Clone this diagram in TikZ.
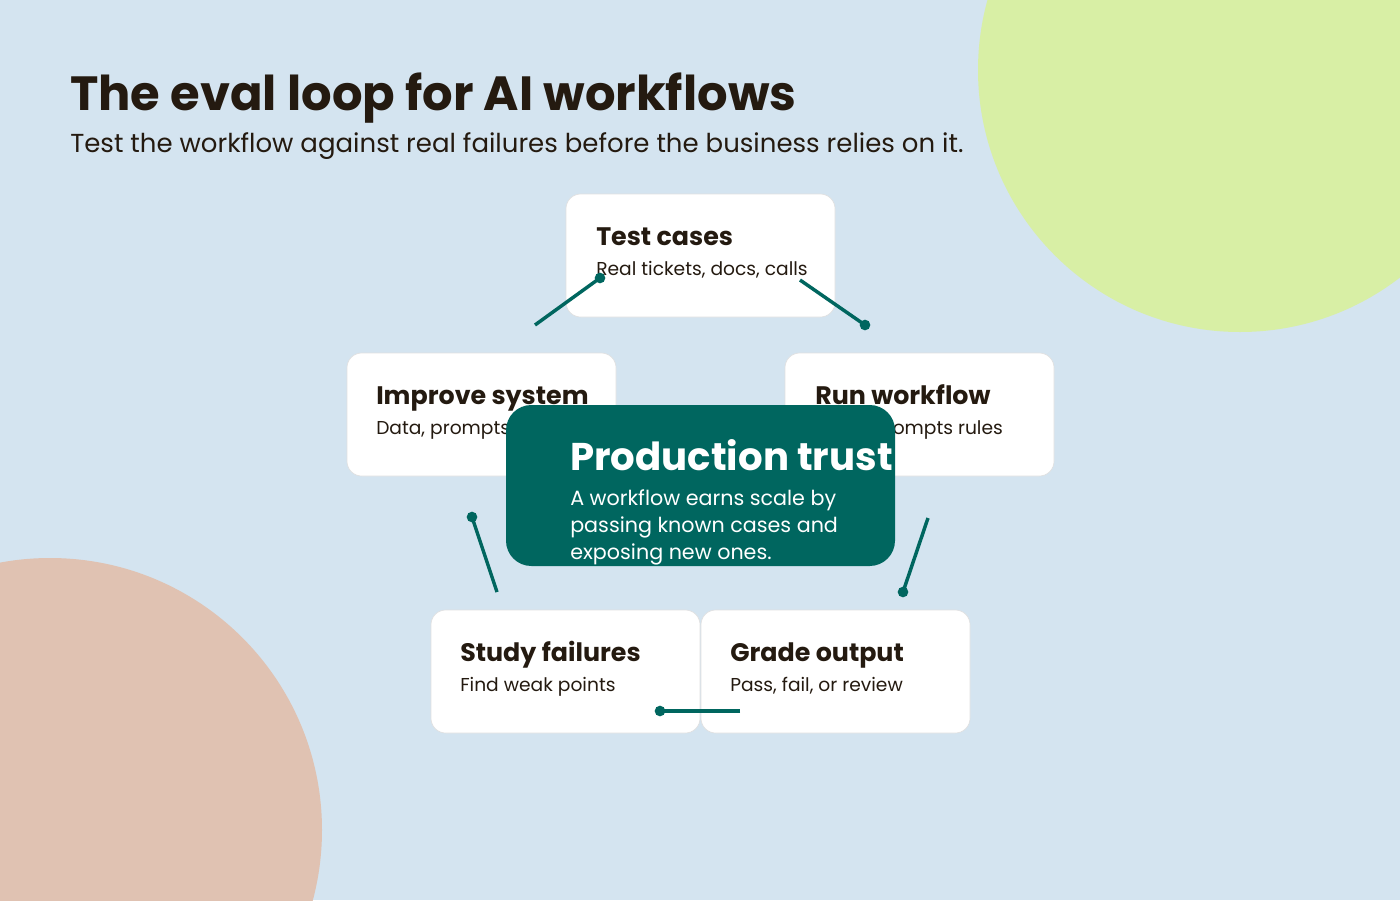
\documentclass[tikz,border=0pt]{standalone}
\usepackage{fontspec}
\setmainfont{Poppins}
\definecolor{bg}{HTML}{D4E4F0}
\definecolor{lime}{HTML}{D8EFA5}
\definecolor{peach}{HTML}{E0C2B2}
\definecolor{teal}{HTML}{00665F}
\definecolor{ink}{HTML}{241A10}
\begin{document}
\begin{tikzpicture}[x=0.75pt,y=-0.75pt,
  card/.style={draw=black!12,fill=white,rounded corners=11pt,line width=0.5pt},
  ttl/.style={anchor=base west,inner sep=0,text=ink,font=\fontsize{19}{22}\selectfont\bfseries},
  sub/.style={anchor=base west,inner sep=0,text=ink,font=\fontsize{14}{17}\selectfont},
  link/.style={draw=teal,line width=2.6pt},
  dot/.style={circle,fill=teal,inner sep=0,minimum size=8pt}]
\fill[bg] (0,0) rectangle (1400,900);
\useasboundingbox (0,0) rectangle (1400,900);
\fill[lime] (1240,70) circle[radius=262];
\fill[peach] (50,830) circle[radius=272];
\node[anchor=base west,inner sep=0,text=ink,font=\fontsize{36}{40}\selectfont\bfseries] (title) at (70,110) {The eval loop for AI workflows};
\node[anchor=base west,inner sep=0,text=ink,font=\fontsize{19.5}{22}\selectfont] (subtitle) at (70,152) {Test the workflow against real failures before the business relies on it.};
% cards
\path[card] (566,194) rectangle (835,317);
\node[ttl] (t1) at (596,245) {Test cases};
\node[sub] (s1) at (596,275) {Real tickets, docs, calls};
\path[card] (347,353) rectangle (616,476);
\node[ttl] (t5) at (376,404) {Improve system};
\node[sub] (s5) at (376,434) {Data, prompts, tools};
\path[card] (785,353) rectangle (1054,476);
\node[ttl] (t2) at (815,404) {Run workflow};
\node[sub] (s2) at (815,434) {Apply prompts rules};
\path[card] (431,610) rectangle (700,733);
\node[ttl] (t4) at (460,661) {Study failures};
\node[sub] (s4) at (460,691) {Find weak points};
\path[card] (701,610) rectangle (970,733);
\node[ttl] (t3) at (730,661) {Grade output};
\node[sub] (s3) at (730,691) {Pass, fail, or review};
% connectors
\coordinate (a1) at (600,278); \coordinate (a2) at (535,325);
\coordinate (b1) at (800,280); \coordinate (b2) at (865,325);
\coordinate (c1) at (928,518); \coordinate (c2) at (903,592);
\coordinate (d1) at (740,711); \coordinate (d2) at (660,711);
\coordinate (e1) at (497,592); \coordinate (e2) at (472,517);
\draw[link] (a1) -- (a2); \node[dot] at (a1) {};
\draw[link] (b1) -- (b2); \node[dot] at (b2) {};
\draw[link] (c1) -- (c2); \node[dot] at (c2) {};
\draw[link] (d1) -- (d2); \node[dot] at (d2) {};
\draw[link] (e1) -- (e2); \node[dot] at (e2) {};
% center
\fill[teal,rounded corners=19pt] (506,405) rectangle (895,566);
\node[anchor=base west,inner sep=0,text=white,font=\fontsize{29}{32}\selectfont\bfseries] (ct) at (570,470) {Production trust};
\node[sub,text=white,font=\fontsize{15.5}{20}\selectfont] (c1t) at (570,505) {A workflow earns scale by};
\node[sub,text=white,font=\fontsize{15.5}{20}\selectfont] (c2t) at (570,532) {passing known cases and};
\node[sub,text=white,font=\fontsize{15.5}{20}\selectfont] (c3t) at (570,559) {exposing new ones.};
\end{tikzpicture}
\end{document}
